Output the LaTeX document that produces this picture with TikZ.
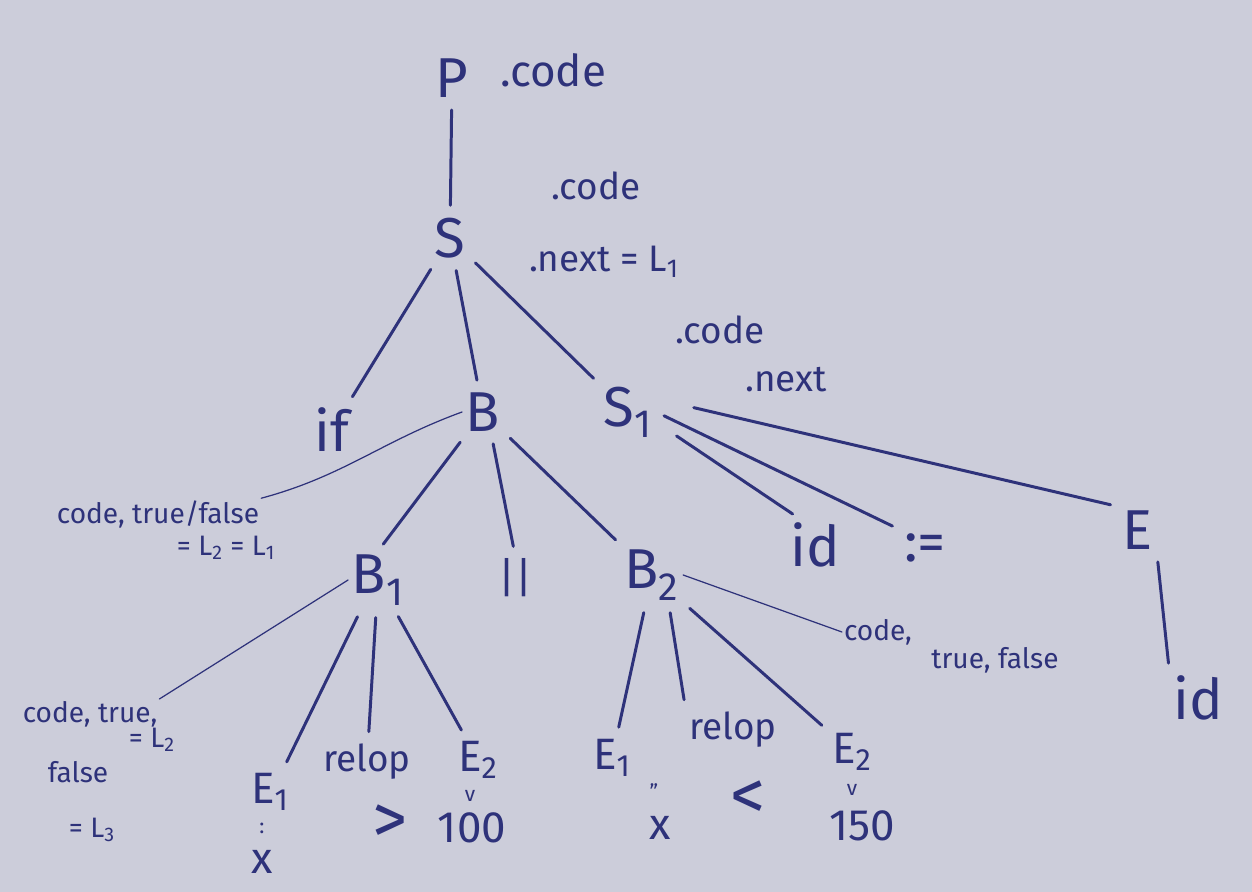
\documentclass[tikz,border=0pt]{standalone}
\usepackage{fontspec}
\setmainfont{Fira Sans}
\usetikzlibrary{positioning}
\definecolor{paper}{RGB}{204,205,218}
\definecolor{ink}{RGB}{46,50,122}
\tikzset{
  sym/.style={text=ink, font=\fontsize{32}{36}\selectfont, inner sep=2pt},
  leaf/.style={text=ink, font=\fontsize{25}{29}\selectfont, inner sep=2pt},
  op/.style={text=ink, font=\fontsize{40}{44}\selectfont, inner sep=2pt},
  relop/.style={text=ink, font=\fontsize{21}{25}\selectfont, inner sep=2pt},
  note/.style={text=ink, font=\fontsize{21}{25}\selectfont, inner sep=1pt},
  smallnote/.style={text=ink, font=\fontsize{16}{19}\selectfont, inner sep=1pt},
  tick/.style={text=ink, font=\fontsize{12}{14}\selectfont, inner sep=0pt},
  branch/.style={draw=ink, line width=1.7pt, line cap=round, shorten <=5pt, shorten >=5pt},
  thin/.style={draw=ink, line width=0.7pt, line cap=round}
}
\begin{document}
\begin{tikzpicture}[x=0.02cm, y=-0.02cm]
  \fill[paper] (0,0) rectangle (1252,892);

  \node[sym] (P) at (452,78) {P};
  \node[note, anchor=west, font=\fontsize{25}{29}\selectfont] (Pcode) at (498,70) {.code};
  \node[sym] (S) at (450,238) {S};
  \node[note] (Scode) at (596,186) {.code};
  \node[note] (Snext) at (604,262) {.next = L\textsubscript{1}};

  \node[sym] (if) at (332,430) {if};
  \node[sym] (B) at (483,412) {B};
  \node[sym] (S1) at (628,412) {S\textsubscript{1}};
  \node[note] (S1code) at (720,330) {.code};
  \node[note] (S1next) at (786,380) {.next};

  \node[smallnote] (Bnote) at (158,514) {code, true/false};
  \node[smallnote] (Bnotel) at (226,548) {= L\textsubscript{2} = L\textsubscript{1}};

  \node[sym] (B1) at (378,580) {B\textsubscript{1}};
  \node[sym, font=\fontsize{24}{28}\selectfont] (or) at (515,578) {||};
  \node[sym] (B2) at (652,575) {B\textsubscript{2}};
  \node[sym] (id) at (815,545) {id};
  \node[sym] (assign) at (925,548) {:=};
  \node[sym] (E) at (1138,530) {E};
  \node[sym] (Eid) at (1198,698) {id};

  \node[smallnote] (B1note) at (90,714) {code, true,};
  \node[smallnote] (B1notel) at (152,740) {= L\textsubscript{2}};
  \node[smallnote] (B1notef) at (78,772) {false};
  \node[smallnote] (B1notem) at (92,830) {= L\textsubscript{3}};

  \node[smallnote] (B2note) at (878,632) {code,};
  \node[smallnote] (B2notel) at (995,660) {true, false};

  \node[leaf] (E1a) at (270,792) {E\textsubscript{1}};
  \node[relop] (relopa) at (367,762) {relop};
  \node[leaf] (E2a) at (478,760) {E\textsubscript{2}};
  \node[tick] (ta) at (262,828) {:};
  \node[leaf] (xa) at (262,862) {x};
  \node[op] (gt) at (390,824) {>};
  \node[tick] (tb) at (470,796) {v};
  \node[leaf] (vala) at (472,828) {100};

  \node[leaf] (E1b) at (612,758) {E\textsubscript{1}};
  \node[relop] (relopb) at (733,730) {relop};
  \node[leaf] (E2b) at (852,752) {E\textsubscript{2}};
  \node[tick] (tc) at (654,792) {''};
  \node[leaf] (xb) at (660,828) {x};
  \node[op] (lt) at (748,800) {<};
  \node[tick] (td) at (852,790) {v};
  \node[leaf] (valb) at (862,826) {150};

  \draw[branch] (P) -- (S);
  \draw[branch] (S) -- (if);
  \draw[branch] (S) -- (B);
  \draw[branch] (S) -- (S1);

  \draw[branch] (B) -- (B1.north);
  \draw[branch] (B.-70) -- (or.north);
  \draw[branch] (B) -- (B2);
  \draw[branch, shorten <=14pt] (S1.-20) -- (id.120);
  \draw[branch] (S1.east) -- (assign.north west);
  \draw[branch, shorten <=22pt] (S1.25) -- (E.north west);
  \draw[branch] (E.south east) -- (Eid.north west);

  \draw[branch] (B1.-120) -- (E1a.60);
  \draw[branch] (B1) -- (relopa);
  \draw[branch] (B1) -- (E2a);
  \draw[branch] (B2) -- (E1b);
  \draw[branch] (B2.-60) -- (relopb.north west);
  \draw[branch] (B2) -- (E2b);

  \draw[thin] (B.west) to[out=200,in=15] (Bnote.north east);
  \draw[thin] (B1.west) -- (B1note.north east);
  \draw[thin] (B2.east) -- (B2note.west);
\end{tikzpicture}
\end{document}
